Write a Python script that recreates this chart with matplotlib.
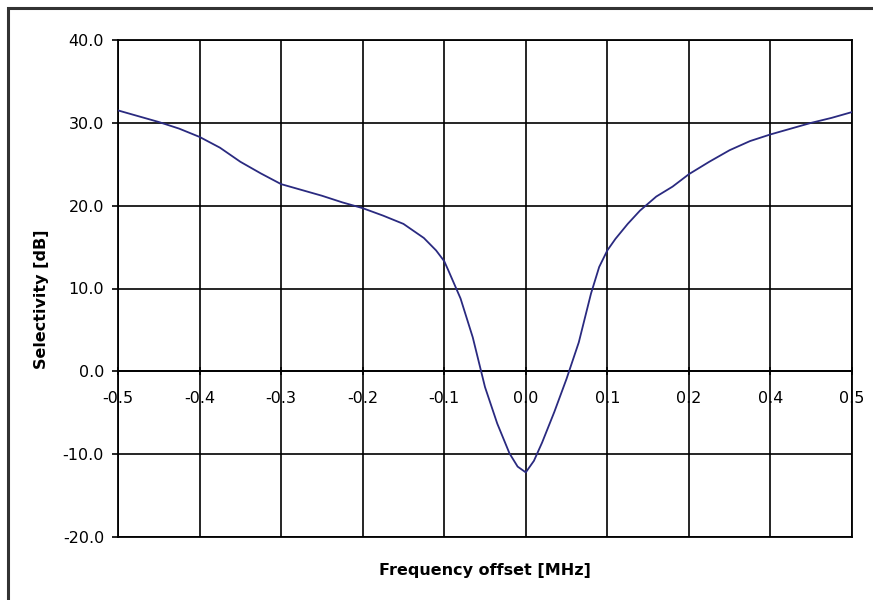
# -*- coding: utf-8 -*-

import matplotlib
matplotlib.use('Agg')
import matplotlib.pyplot as plt
import numpy as np
from matplotlib.patches import Rectangle

plt.rcParams['font.family'] = ['DejaVu Sans']
plt.rcParams['axes.unicode_minus'] = False

# labels shown on the x axis (the axis is evenly spaced by label, 0.3 is skipped)
tickValues = [-0.5, -0.4, -0.3, -0.2, -0.1, 0.0, 0.1, 0.2, 0.4, 0.5]
tickLabels = ['-0.5', '-0.4', '-0.3', '-0.2', '-0.1', '0.0', '0.1', '0.2', '0.4', '0.5']
yTicks = [-20, -10, 0, 10, 20, 30, 40]

# frequency offset [MHz] and selectivity [dB]
freq = [-0.5, -0.475, -0.45, -0.425, -0.40, -0.375, -0.35, -0.325, -0.30, -0.275,
        -0.25, -0.225, -0.20, -0.175, -0.15, -0.125, -0.11, -0.10, -0.095, -0.08,
        -0.065, -0.05, -0.035, -0.02, -0.01, 0.0,
        0.01, 0.02, 0.035, 0.05, 0.065, 0.08, 0.09, 0.10, 0.11, 0.125, 0.14,
        0.16, 0.18, 0.20, 0.25, 0.30, 0.35, 0.40, 0.45, 0.475, 0.50]
selectivity = [31.5, 30.8, 30.1, 29.3, 28.3, 27.0, 25.3, 23.9, 22.6, 21.9,
               21.2, 20.4, 19.7, 18.8, 17.8, 16.1, 14.6, 13.3, 12.2, 8.8,
               4.1, -1.9, -6.3, -9.9, -11.5, -12.2,
               -10.8, -8.6, -4.9, -0.9, 3.5, 9.4, 12.6, 14.6, 16.0, 17.8, 19.4,
               21.1, 22.3, 23.8, 25.3, 26.7, 27.8, 28.6, 30.0, 30.6, 31.3]

pos = np.arange(len(tickValues))
xData = np.interp(freq, tickValues, pos)

fig = plt.figure(figsize=(8.73, 6.0), dpi=100)
ax = fig.add_axes([118 / 873, 63 / 600, 734 / 873, 497 / 600])

ax.plot(xData, selectivity, color='#2a2a80', linewidth=1.3, zorder=3)

ax.set_xlim(pos[0], pos[-1])
ax.set_ylim(-20, 40)
ax.set_xticks(pos)
ax.set_xticklabels(tickLabels)
ax.set_yticks(yTicks)
ax.set_yticklabels(['%.1f' % v for v in yTicks])

ax.grid(True, color='black', linewidth=1.2)
ax.set_axisbelow(True)
for s in ax.spines.values():
    s.set_color('black')
    s.set_linewidth(1.3)
ax.spines['bottom'].set_position(('data', 0))
ax.axhline(-20, color='black', linewidth=1.3, clip_on=False)

ax.tick_params(axis='x', direction='inout', length=6, width=1.2, pad=11,
               labelsize=11.5, colors='black')
ax.tick_params(axis='y', direction='out', length=4.5, width=1.2, pad=5.5,
               labelsize=11.5, colors='black')

fig.text(42 / 873, 1 - 299 / 600, 'Selectivity [dB]', rotation=90, ha='center',
         va='center', fontsize=11.5, fontweight='bold')
fig.text(485 / 873, 1 - 570 / 600, 'Frequency offset [MHz]', ha='center',
         va='center', fontsize=11.5, fontweight='bold')

# outer chart frame (only top and left edge are inside the picture)
fig.add_artist(Rectangle((8 / 873, -0.2), 1.2, 1.2 - 8 / 600, transform=fig.transFigure,
                         fill=False, edgecolor='#333333', linewidth=2.2))

fig.savefig('out.png', dpi=100)
